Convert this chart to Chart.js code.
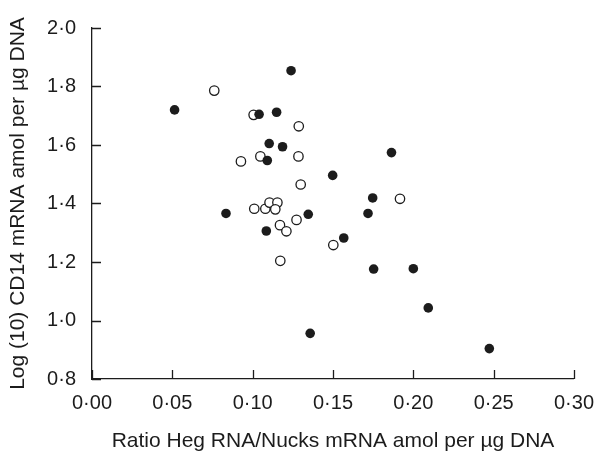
<!DOCTYPE html>
<html>
<head>
<meta charset="utf-8">
<script src="https://cdn.jsdelivr.net/npm/chart.js@4"></script>
<style>
  html, body { margin: 0; padding: 0; background: #fff; }
  .chart-container { width: 606px; height: 456px; position: relative; }
</style>
</head>
<body>
<div class="chart-container">
  <canvas id="chart" width="606" height="456"></canvas>
</div>
<script>
// filled circles
const filledX = [0.1239, 0.1149, 0.1040, 0.1103, 0.1186, 0.1091, 0.1864, 0.1498, 0.0834, 0.1346,
                 0.1747, 0.1718, 0.1085, 0.1567, 0.1753, 0.2000, 0.2093, 0.0514, 0.2473, 0.1358];
const filledY = [1.854, 1.712, 1.705, 1.605, 1.594, 1.547, 1.574, 1.496, 1.366, 1.363,
                 1.419, 1.366, 1.306, 1.282, 1.176, 1.177, 1.043, 1.720, 0.904, 0.956];
// open circles
const openX = [0.0761, 0.1006, 0.1287, 0.1048, 0.0927, 0.1285, 0.1299, 0.1010, 0.1079, 0.1105,
               0.1154, 0.1141, 0.1170, 0.1210, 0.1273, 0.1502, 0.1917, 0.1172];
const openY = [1.786, 1.703, 1.664, 1.561, 1.544, 1.561, 1.465, 1.382, 1.382, 1.403,
               1.403, 1.380, 1.326, 1.305, 1.344, 1.258, 1.416, 1.204];

const xTickLabels = ['0·00', '0·05', '0·10', '0·15', '0·20', '0·25', '0·30'];
const yTickLabels = ['0·8', '1·0', '1·2', '1·4', '1·6', '1·8', '2·0'];
const xTitle = 'Ratio Heg RNA/Nucks mRNA amol per µg DNA';
const yTitle = 'Log (10) CD14 mRNA amol per µg DNA';

const ink = '#1c1c1c';
const toPoints = (xs, ys) => xs.map((x, i) => ({ x: x, y: ys[i] }));

// tick marks pointing into the plot area
const innerTicks = {
  id: 'innerTicks',
  afterDatasetsDraw(chart) {
    const { ctx, scales: { x, y } } = chart;
    const len = 9;
    ctx.save();
    ctx.strokeStyle = ink;
    ctx.lineWidth = 1.3;
    ctx.beginPath();
    x.ticks.forEach(t => {
      const px = Math.round(x.getPixelForValue(t.value)) + 0.5;
      ctx.moveTo(px, y.bottom);
      ctx.lineTo(px, y.bottom - len);
    });
    y.ticks.forEach(t => {
      const py = Math.round(y.getPixelForValue(t.value)) + 0.5;
      ctx.moveTo(x.left, py);
      ctx.lineTo(x.left + len, py);
    });
    ctx.stroke();
    ctx.restore();
  }
};

Chart.defaults.font.family = '"Liberation Sans", Arial, sans-serif';
Chart.defaults.color = ink;

const ctx = document.getElementById('chart').getContext('2d');
new Chart(ctx, {
  type: 'scatter',
  data: {
    datasets: [
      {
        label: 'filled',
        data: toPoints(filledX, filledY),
        pointRadius: 4.8,
        pointBackgroundColor: ink,
        pointBorderColor: ink,
        pointBorderWidth: 0
      },
      {
        label: 'open',
        data: toPoints(openX, openY),
        pointRadius: 4.7,
        pointBackgroundColor: '#fff',
        pointBorderColor: ink,
        pointBorderWidth: 1.3
      }
    ]
  },
  options: {
    responsive: false,
    animation: false,
    layout: { padding: { left: 0, right: 20, top: 22, bottom: 0 } },
    plugins: {
      legend: { display: false },
      tooltip: { enabled: false }
    },
    scales: {
      x: {
        type: 'linear',
        min: 0,
        max: 0.30,
        afterBuildTicks: s => { s.ticks = xTickLabels.map((_, i) => ({ value: i * 0.05 })); },
        afterFit: s => { s.height = 77; },
        grid: { display: false, drawTicks: false },
        border: { display: true, color: ink, width: 1.3 },
        ticks: {
          padding: 12,
          font: { size: 20 },
          maxRotation: 0,
          callback: (v, i) => xTickLabels[i]
        },
        title: {
          display: true,
          text: xTitle,
          font: { size: 21 },
          padding: { top: 8, bottom: 2 }
        }
      },
      y: {
        type: 'linear',
        min: 0.8,
        max: 2.0,
        afterBuildTicks: s => { s.ticks = yTickLabels.map((_, i) => ({ value: 0.8 + i * 0.2 })); },
        afterFit: s => { s.width = 92; },
        grid: { display: false, drawTicks: false },
        border: { display: true, color: ink, width: 1.3 },
        ticks: {
          padding: 16,
          font: { size: 20 },
          callback: (v, i) => yTickLabels[i]
        },
        title: {
          display: true,
          text: yTitle,
          font: { size: 21 },
          padding: { top: 6, bottom: 4 }
        }
      }
    }
  },
  plugins: [innerTicks]
});
</script>
</body>
</html>
